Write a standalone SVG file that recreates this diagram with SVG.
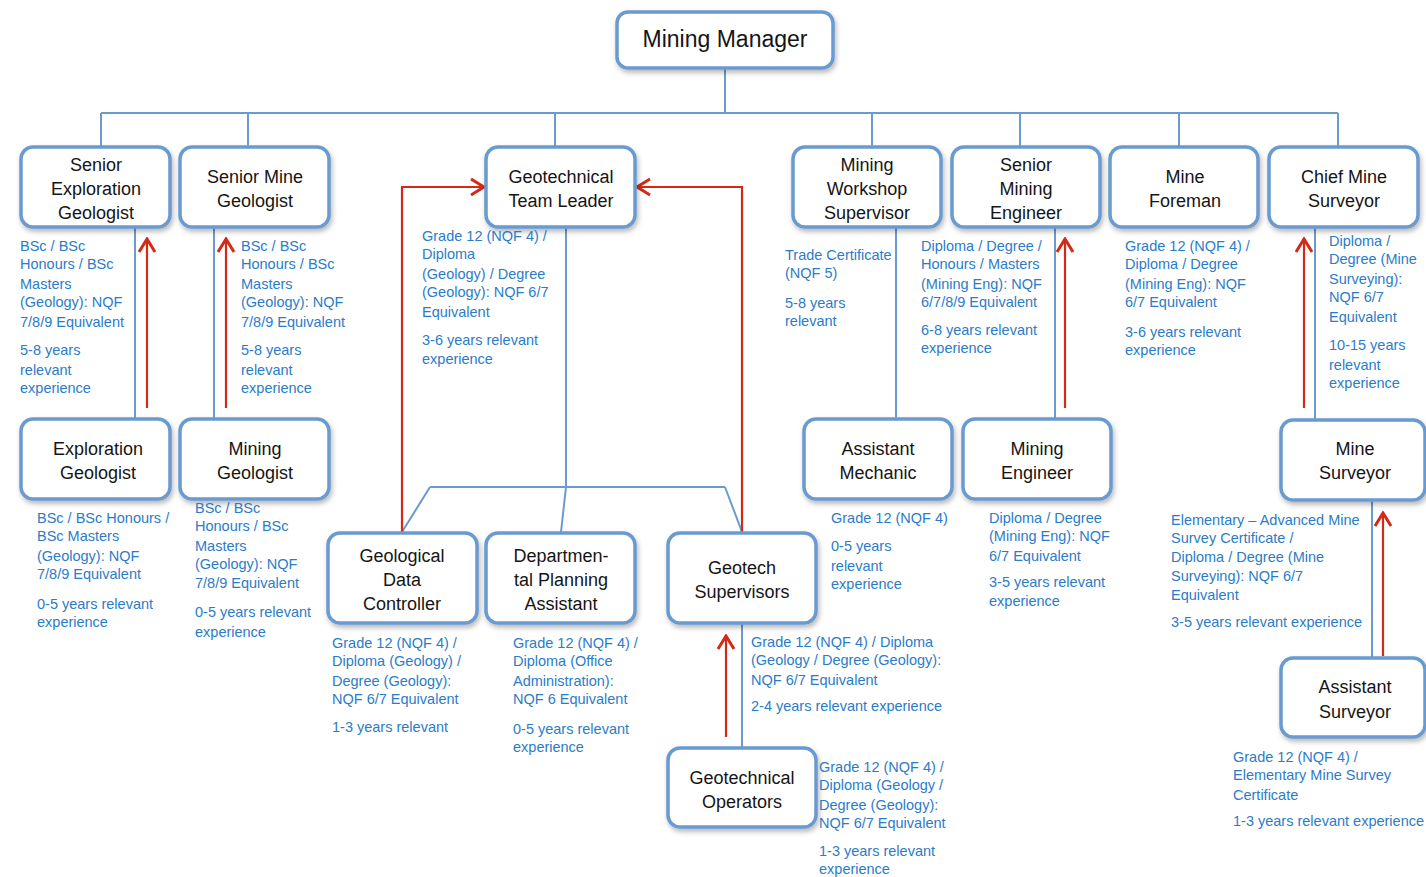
<svg xmlns="http://www.w3.org/2000/svg" width="1426" height="877" viewBox="0 0 1426 877">
  <style>
    .box { fill: #ffffff; stroke: #6a9bd0; stroke-width: 3.5; filter: url(#shadow); }
    .title { font-family: "Liberation Sans", Arial, sans-serif; font-size: 18px; fill: #151515; text-anchor: middle; }
    .big { font-size: 23px; }
    .info { font-family: "Liberation Sans", Arial, sans-serif; font-size: 14.5px; fill: #2b7cc8; }
    .link { fill: none; stroke: #6a9bd0; stroke-width: 2; }
    .promo { fill: none; stroke: #d32a17; stroke-width: 2.2; marker-end: url(#arrow); }
  </style>
  <defs>
    <filter id="shadow" x="-10%" y="-10%" width="125%" height="135%">
      <feDropShadow dx="1.5" dy="3" stdDeviation="2.5" flood-color="#000000" flood-opacity="0.28"/>
    </filter>
    <marker id="arrow" viewBox="-16 -10 18 20" refX="0" refY="0" markerWidth="18" markerHeight="20" markerUnits="userSpaceOnUse" orient="auto">
      <path d="M-13,-8 L0,0 L-13,8" fill="none" stroke="#d32a17" stroke-width="3"/>
    </marker>
  </defs>

  <rect width="1426" height="877" fill="#ffffff"/>

  <!-- reporting lines -->
  <g id="connectors">
    <path class="link" d="M725,68 V113 M101,113 H1338 M101,113 V146 M248,113 V146 M555,113 V146 M872,113 V146 M1020,113 V146 M1179,113 V146 M1338,113 V146"/>
    <path class="link" d="M135,227 V418 M214,227 V418"/>
    <path class="link" d="M566,227 V487 L561,532 M430,487 H725 M430,487 L402,532 M725,487 L742,532"/>
    <path class="link" d="M896,227 V418 M1055,227 V418 M1315,227 V421 M1372,500 V658 M742,623 V748"/>
    <!-- career progression -->
    <path class="promo" d="M147,408 V239"/>
    <path class="promo" d="M226,408 V239"/>
    <path class="promo" d="M1065,408 V239"/>
    <path class="promo" d="M1304,408 V239"/>
    <path class="promo" d="M1383,656 V513"/>
    <path class="promo" d="M726,737 V636"/>
    <path class="promo" d="M402,532 V187 H484"/>
    <path class="promo" d="M742,532 V187 H637"/>
  </g>

  <g id="mining-manager">
    <rect class="box" x="617" y="12" width="216" height="56" rx="11"/>
    <text class="title big" x="725" y="47">Mining Manager</text>
  </g>

  <g id="senior-exploration-geologist">
    <rect class="box" x="21" y="147" width="149" height="80" rx="12"/>
    <text class="title" x="96" y="171">Senior</text>
    <text class="title" x="96" y="195">Exploration</text>
    <text class="title" x="96" y="219">Geologist</text>
    <text class="info" x="20"><tspan x="20" y="251">BSc / BSc</tspan><tspan x="20" y="269">Honours / BSc</tspan><tspan x="20" y="289">Masters</tspan><tspan x="20" y="307">(Geology): NQF</tspan><tspan x="20" y="327">7/8/9 Equivalent</tspan><tspan x="20" y="355">5-8 years</tspan><tspan x="20" y="375">relevant</tspan><tspan x="20" y="393">experience</tspan></text>
  </g>

  <g id="senior-mine-geologist">
    <rect class="box" x="180" y="147" width="149" height="80" rx="12"/>
    <text class="title" x="255" y="183">Senior Mine</text>
    <text class="title" x="255" y="207">Geologist</text>
    <text class="info"><tspan x="241" y="251">BSc / BSc</tspan><tspan x="241" y="269">Honours / BSc</tspan><tspan x="241" y="289">Masters</tspan><tspan x="241" y="307">(Geology): NQF</tspan><tspan x="241" y="327">7/8/9 Equivalent</tspan><tspan x="241" y="355">5-8 years</tspan><tspan x="241" y="375">relevant</tspan><tspan x="241" y="393">experience</tspan></text>
  </g>

  <g id="geotechnical-team-leader">
    <rect class="box" x="486" y="147" width="149" height="80" rx="12"/>
    <text class="title" x="561" y="183">Geotechnical</text>
    <text class="title" x="561" y="207">Team Leader</text>
    <text class="info"><tspan x="422" y="241">Grade 12 (NQF 4) /</tspan><tspan x="422" y="259">Diploma</tspan><tspan x="422" y="279">(Geology) / Degree</tspan><tspan x="422" y="297">(Geology): NQF 6/7</tspan><tspan x="422" y="317">Equivalent</tspan><tspan x="422" y="345">3-6 years relevant</tspan><tspan x="422" y="364">experience</tspan></text>
  </g>

  <g id="mining-workshop-supervisor">
    <rect class="box" x="793" y="147" width="148" height="80" rx="12"/>
    <text class="title" x="867" y="171">Mining</text>
    <text class="title" x="867" y="195">Workshop</text>
    <text class="title" x="867" y="219">Supervisor</text>
    <text class="info"><tspan x="785" y="260">Trade Certificate</tspan><tspan x="785" y="278">(NQF 5)</tspan><tspan x="785" y="308">5-8 years</tspan><tspan x="785" y="326">relevant</tspan></text>
  </g>

  <g id="senior-mining-engineer">
    <rect class="box" x="952" y="147" width="148" height="80" rx="12"/>
    <text class="title" x="1026" y="171">Senior</text>
    <text class="title" x="1026" y="195">Mining</text>
    <text class="title" x="1026" y="219">Engineer</text>
    <text class="info"><tspan x="921" y="251">Diploma / Degree /</tspan><tspan x="921" y="269">Honours / Masters</tspan><tspan x="921" y="289">(Mining Eng): NQF</tspan><tspan x="921" y="307">6/7/8/9 Equivalent</tspan><tspan x="921" y="335">6-8 years relevant</tspan><tspan x="921" y="353">experience</tspan></text>
  </g>

  <g id="mine-foreman">
    <rect class="box" x="1110" y="147" width="148" height="80" rx="12"/>
    <text class="title" x="1185" y="183">Mine</text>
    <text class="title" x="1185" y="207">Foreman</text>
    <text class="info"><tspan x="1125" y="251">Grade 12 (NQF 4) /</tspan><tspan x="1125" y="269">Diploma / Degree</tspan><tspan x="1125" y="289">(Mining Eng): NQF</tspan><tspan x="1125" y="307">6/7 Equivalent</tspan><tspan x="1125" y="337">3-6 years relevant</tspan><tspan x="1125" y="355">experience</tspan></text>
  </g>

  <g id="chief-mine-surveyor">
    <rect class="box" x="1269" y="147" width="149" height="80" rx="12"/>
    <text class="title" x="1344" y="183">Chief Mine</text>
    <text class="title" x="1344" y="207">Surveyor</text>
    <text class="info"><tspan x="1329" y="246">Diploma /</tspan><tspan x="1329" y="264">Degree (Mine</tspan><tspan x="1329" y="284">Surveying):</tspan><tspan x="1329" y="302">NQF 6/7</tspan><tspan x="1329" y="322">Equivalent</tspan><tspan x="1329" y="350">10-15 years</tspan><tspan x="1329" y="370">relevant</tspan><tspan x="1329" y="388">experience</tspan></text>
  </g>

  <g id="exploration-geologist">
    <rect class="box" x="21" y="419" width="149" height="80" rx="12"/>
    <text class="title" x="98" y="455">Exploration</text>
    <text class="title" x="98" y="479">Geologist</text>
    <text class="info"><tspan x="37" y="523">BSc / BSc Honours /</tspan><tspan x="37" y="541">BSc Masters</tspan><tspan x="37" y="561">(Geology): NQF</tspan><tspan x="37" y="579">7/8/9 Equivalent</tspan><tspan x="37" y="609">0-5 years relevant</tspan><tspan x="37" y="627">experience</tspan></text>
  </g>

  <g id="mining-geologist">
    <rect class="box" x="180" y="419" width="149" height="80" rx="12"/>
    <text class="title" x="255" y="455">Mining</text>
    <text class="title" x="255" y="479">Geologist</text>
    <text class="info"><tspan x="195" y="513">BSc / BSc</tspan><tspan x="195" y="531">Honours / BSc</tspan><tspan x="195" y="551">Masters</tspan><tspan x="195" y="569">(Geology): NQF</tspan><tspan x="195" y="588">7/8/9 Equivalent</tspan><tspan x="195" y="617">0-5 years relevant</tspan><tspan x="195" y="637">experience</tspan></text>
  </g>

  <g id="geological-data-controller">
    <rect class="box" x="328" y="533" width="149" height="90" rx="12"/>
    <text class="title" x="402" y="562">Geological</text>
    <text class="title" x="402" y="586">Data</text>
    <text class="title" x="402" y="610">Controller</text>
    <text class="info"><tspan x="332" y="648">Grade 12 (NQF 4) /</tspan><tspan x="332" y="666">Diploma (Geology) /</tspan><tspan x="332" y="686">Degree (Geology):</tspan><tspan x="332" y="704">NQF 6/7 Equivalent</tspan><tspan x="332" y="732">1-3 years relevant</tspan></text>
  </g>

  <g id="departmental-planning-assistant">
    <rect class="box" x="486" y="533" width="149" height="90" rx="12"/>
    <text class="title" x="561" y="562">Departmen-</text>
    <text class="title" x="561" y="586">tal Planning</text>
    <text class="title" x="561" y="610">Assistant</text>
    <text class="info"><tspan x="513" y="648">Grade 12 (NQF 4) /</tspan><tspan x="513" y="666">Diploma (Office</tspan><tspan x="513" y="686">Administration):</tspan><tspan x="513" y="704">NQF 6 Equivalent</tspan><tspan x="513" y="734">0-5 years relevant</tspan><tspan x="513" y="752">experience</tspan></text>
  </g>

  <g id="geotech-supervisors">
    <rect class="box" x="668" y="533" width="148" height="90" rx="12"/>
    <text class="title" x="742" y="574">Geotech</text>
    <text class="title" x="742" y="598">Supervisors</text>
    <text class="info"><tspan x="751" y="647">Grade 12 (NQF 4) / Diploma</tspan><tspan x="751" y="665">(Geology / Degree (Geology):</tspan><tspan x="751" y="685">NQF 6/7 Equivalent</tspan><tspan x="751" y="711">2-4 years relevant experience</tspan></text>
  </g>

  <g id="geotechnical-operators">
    <rect class="box" x="668" y="748" width="148" height="79" rx="12"/>
    <text class="title" x="742" y="784">Geotechnical</text>
    <text class="title" x="742" y="808">Operators</text>
    <text class="info"><tspan x="819" y="772">Grade 12 (NQF 4) /</tspan><tspan x="819" y="790">Diploma (Geology /</tspan><tspan x="819" y="810">Degree (Geology):</tspan><tspan x="819" y="828">NQF 6/7 Equivalent</tspan><tspan x="819" y="856">1-3 years relevant</tspan><tspan x="819" y="874">experience</tspan></text>
  </g>

  <g id="assistant-mechanic">
    <rect class="box" x="804" y="419" width="148" height="80" rx="12"/>
    <text class="title" x="878" y="455">Assistant</text>
    <text class="title" x="878" y="479">Mechanic</text>
    <text class="info"><tspan x="831" y="523">Grade 12 (NQF 4)</tspan><tspan x="831" y="551">0-5 years</tspan><tspan x="831" y="571">relevant</tspan><tspan x="831" y="589">experience</tspan></text>
  </g>

  <g id="mining-engineer">
    <rect class="box" x="963" y="419" width="148" height="80" rx="12"/>
    <text class="title" x="1037" y="455">Mining</text>
    <text class="title" x="1037" y="479">Engineer</text>
    <text class="info"><tspan x="989" y="523">Diploma / Degree</tspan><tspan x="989" y="541">(Mining Eng): NQF</tspan><tspan x="989" y="561">6/7 Equivalent</tspan><tspan x="989" y="587">3-5 years relevant</tspan><tspan x="989" y="606">experience</tspan></text>
  </g>

  <g id="mine-surveyor">
    <rect class="box" x="1281" y="420" width="144" height="80" rx="12"/>
    <text class="title" x="1355" y="455">Mine</text>
    <text class="title" x="1355" y="479">Surveyor</text>
    <text class="info"><tspan x="1171" y="525">Elementary – Advanced Mine</tspan><tspan x="1171" y="543">Survey Certificate /</tspan><tspan x="1171" y="562">Diploma / Degree (Mine</tspan><tspan x="1171" y="581">Surveying): NQF 6/7</tspan><tspan x="1171" y="600">Equivalent</tspan><tspan x="1171" y="627">3-5 years relevant experience</tspan></text>
  </g>

  <g id="assistant-surveyor">
    <rect class="box" x="1281" y="658" width="144" height="79" rx="12"/>
    <text class="title" x="1355" y="693">Assistant</text>
    <text class="title" x="1355" y="718">Surveyor</text>
    <text class="info"><tspan x="1233" y="762">Grade 12 (NQF 4) /</tspan><tspan x="1233" y="780">Elementary Mine Survey</tspan><tspan x="1233" y="800">Certificate</tspan><tspan x="1233" y="826">1-3 years relevant experience</tspan></text>
  </g>
</svg>
